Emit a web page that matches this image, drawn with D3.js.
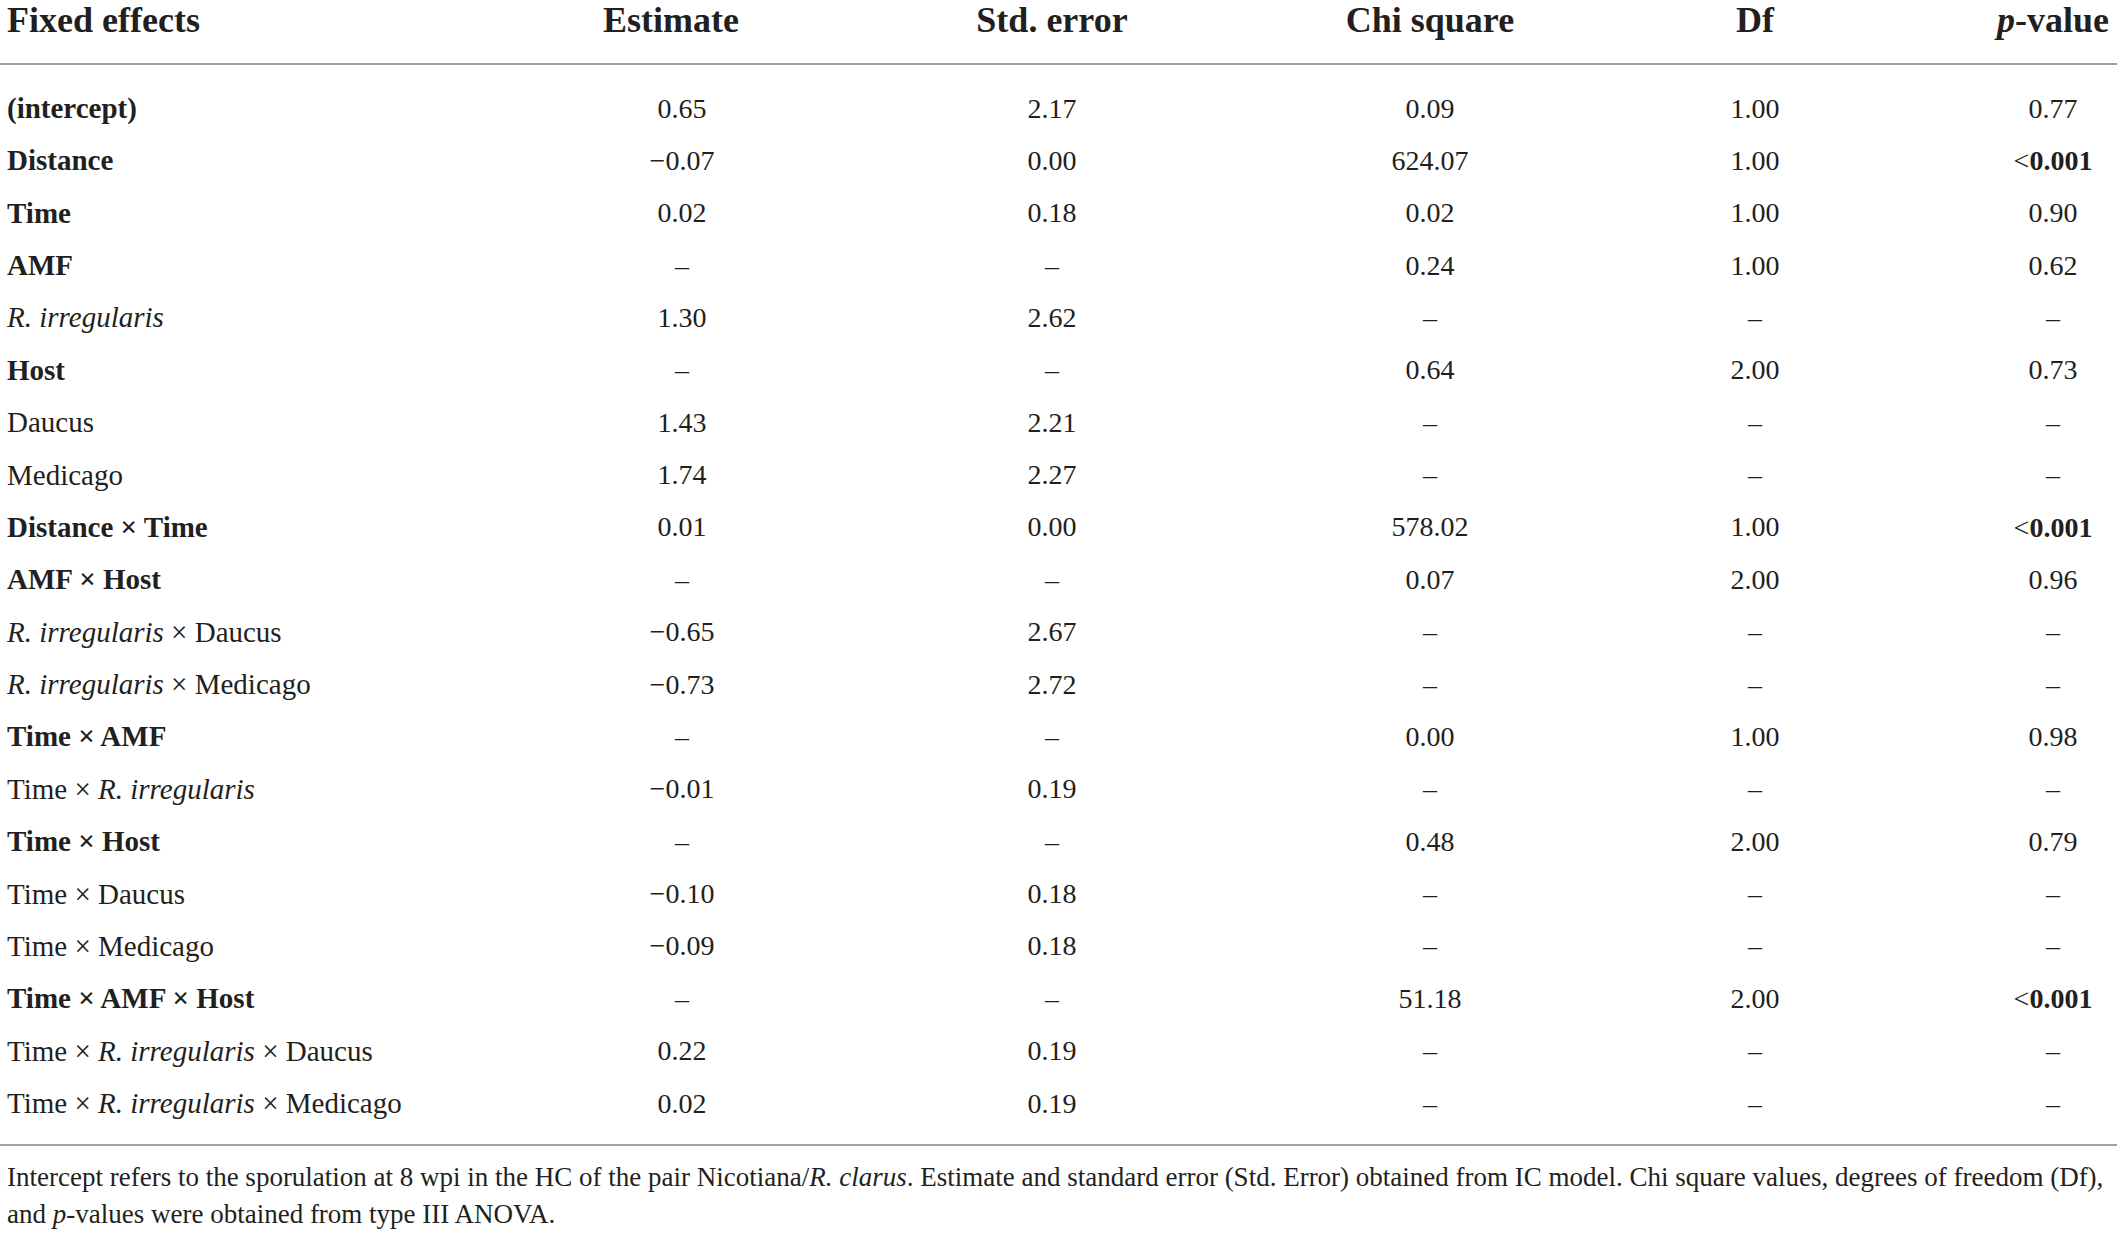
<!DOCTYPE html>
<html>
<head>
<meta charset="utf-8">
<script src="https://cdn.jsdelivr.net/npm/d3@7"></script>
<style>
  html, body { margin: 0; padding: 0; background: #fff; }
  svg { display: block; }
  text { font-family: "Liberation Serif", "Times New Roman", serif; fill: #231f20; }
</style>
</head>
<body>
<script>
// ---- data ----
const headers = ["Fixed effects", "Estimate", "Std. error", "Chi square", "Df", "p-value"];
const effects = [
  "(intercept)", "Distance", "Time", "AMF", "R. irregularis", "Host", "Daucus", "Medicago",
  "Distance × Time", "AMF × Host", "R. irregularis × Daucus", "R. irregularis × Medicago",
  "Time × AMF", "Time × R. irregularis", "Time × Host", "Time × Daucus", "Time × Medicago",
  "Time × AMF × Host", "Time × R. irregularis × Daucus", "Time × R. irregularis × Medicago"
];
const effectBold = [true, true, true, true, false, true, false, false,
  true, true, false, false, true, false, true, false, false, true, false, false];
const estimate = ["0.65", "−0.07", "0.02", "–", "1.30", "–", "1.43", "1.74", "0.01", "–",
  "−0.65", "−0.73", "–", "−0.01", "–", "−0.10", "−0.09", "–", "0.22", "0.02"];
const stdError = ["2.17", "0.00", "0.18", "–", "2.62", "–", "2.21", "2.27", "0.00", "–",
  "2.67", "2.72", "–", "0.19", "–", "0.18", "0.18", "–", "0.19", "0.19"];
const chiSquare = ["0.09", "624.07", "0.02", "0.24", "–", "0.64", "–", "–", "578.02", "0.07",
  "–", "–", "0.00", "–", "0.48", "–", "–", "51.18", "–", "–"];
const df = ["1.00", "1.00", "1.00", "1.00", "–", "2.00", "–", "–", "1.00", "2.00",
  "–", "–", "1.00", "–", "2.00", "–", "–", "2.00", "–", "–"];
const pValue = ["0.77", "<0.001", "0.90", "0.62", "–", "0.73", "–", "–", "<0.001", "0.96",
  "–", "–", "0.98", "–", "0.79", "–", "–", "<0.001", "–", "–"];
const footnote = [
  [["Intercept refers to the sporulation at 8 wpi in the HC of the pair Nicotiana/", false], ["R. clarus", true],
   [". Estimate and standard error (Std. Error) obtained from IC model. Chi square values, degrees of freedom (Df),", false]],
  [["and ", false], ["p", true], ["-values were obtained from type III ANOVA.", false]]
];

// ---- layout ----
const W = 2117, H = 1235;
const svg = d3.select("body").append("svg").attr("width", W).attr("height", H);

const labelSize = 29, bodySize = 28, headSize = 36, noteSize = 27;
const y = d3.scalePoint().domain(d3.range(effects.length)).range([108, 1103]);
const colX = [7, 682, 1052, 1430, 1755, 2053];
const headX = [7, 671, 1052, 1430, 1755, 2109];

// header
const hdr = svg.append("g");
headers.forEach((h, i) => {
  const t = hdr.append("text")
    .attr("x", headX[i]).attr("y", 20)
    .attr("dominant-baseline", "central")
    .attr("font-size", headSize).attr("font-weight", "bold")
    .attr("text-anchor", i === 0 ? "start" : (i === 5 ? "end" : "middle"));
  if (h === "p-value") {
    t.append("tspan").attr("font-style", "italic").text("p");
    t.append("tspan").text("-value");
  } else t.text(h);
});

// rules
svg.append("line").attr("x1", 0).attr("x2", 2117).attr("y1", 64).attr("y2", 64)
  .attr("stroke", "#a0a0a0").attr("stroke-width", 2);
svg.append("line").attr("x1", 0).attr("x2", 2117).attr("y1", 1145).attr("y2", 1145)
  .attr("stroke", "#a0a0a0").attr("stroke-width", 2);

// effect label with italic R. irregularis
function effectLabel(sel, label, bold) {
  const parts = label.split(/(R\. irregularis)/).filter(s => s.length);
  parts.forEach(p => {
    sel.append("tspan")
      .attr("font-style", p === "R. irregularis" ? "italic" : "normal")
      .attr("font-weight", bold ? "bold" : "normal")
      .text(p);
  });
}

const rows = svg.append("g").selectAll("g").data(effects).join("g")
  .attr("transform", (d, i) => `translate(0,${y(i)})`);

rows.append("text").attr("x", colX[0]).attr("dominant-baseline", "central")
  .attr("font-size", labelSize)
  .each(function (d, i) { effectLabel(d3.select(this), d, effectBold[i]); });

const cols = [estimate, stdError, chiSquare, df, pValue];
cols.forEach((arr, ci) => {
  rows.append("text")
    .attr("x", colX[ci + 1]).attr("text-anchor", "middle")
    .attr("dominant-baseline", "central").attr("font-size", bodySize)
    .each(function (d, i) {
      const v = arr[i];
      const t = d3.select(this);
      if (v.startsWith("<")) {
        t.append("tspan").text("<");
        t.append("tspan").attr("font-weight", "bold").text(v.slice(1));
      } else t.text(v);
    });
});

// footnote
footnote.forEach((line, li) => {
  const t = svg.append("text").attr("x", 7).attr("y", 1177 + li * 37)
    .attr("dominant-baseline", "central").attr("font-size", noteSize);
  line.forEach(([s, it]) => t.append("tspan").attr("font-style", it ? "italic" : "normal").text(s));
});
</script>
</body>
</html>
